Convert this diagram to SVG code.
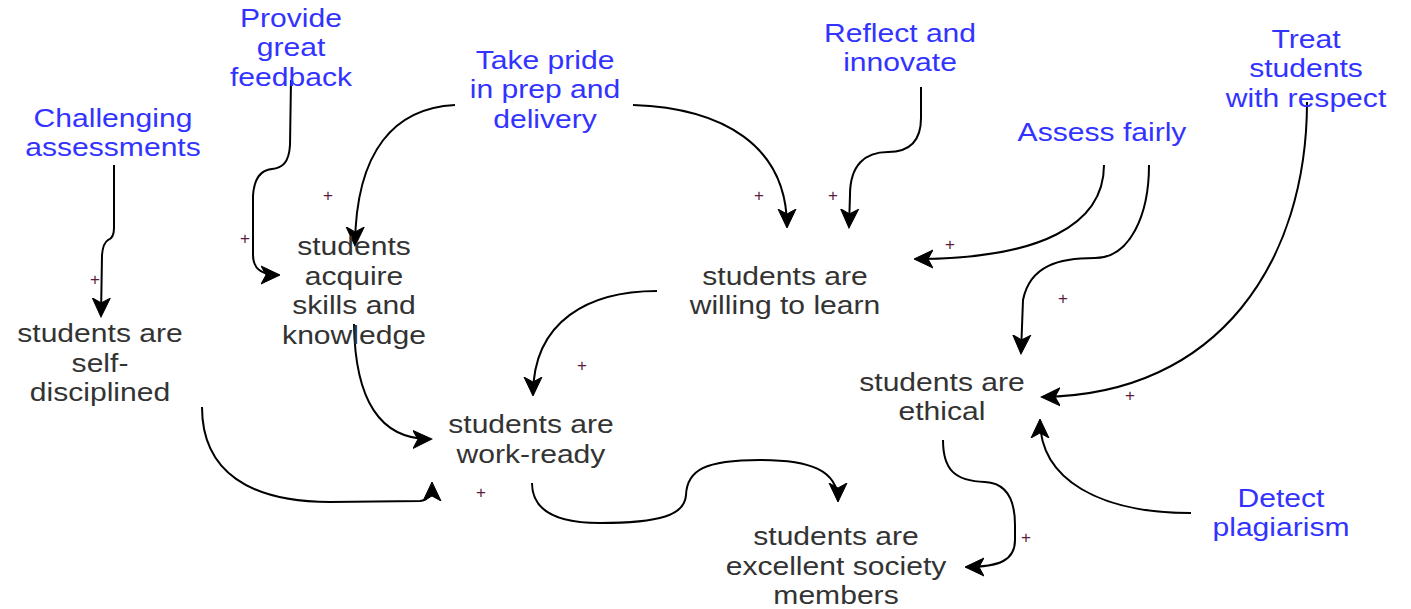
<svg xmlns="http://www.w3.org/2000/svg" width="1411" height="609" viewBox="0 0 1411 609">
<defs>
<style>
.lbl{font-family:"Liberation Sans",Arial,sans-serif;font-size:25.5px;text-anchor:middle}
.act{fill:#3333ff}
.node{fill:#333333}
.edge{fill:none;stroke:#000;stroke-width:2;marker-end:url(#arr)}
.plus{font-family:"Liberation Sans",Arial,sans-serif;font-size:17px;fill:#5c1a3c;text-anchor:middle}
</style>
<marker id="arr" markerUnits="userSpaceOnUse" markerWidth="20" markerHeight="20" viewBox="0 0 20 20" refX="18" refY="10" orient="auto">
<path d="M0,1 L19,10 L0,19 L5,10 Z" fill="#000" stroke="#000" stroke-width="1"/>
</marker>
</defs>
<rect width="1411" height="609" fill="#fff"/>

<g id="connectors">
<path class="edge" d="M114,165 L114,228 Q114,238 108,240 Q103,243 102,255 L101,316"/>
<path class="edge" d="M291,80 L290,145 C289,163 282,168 272,169 C261,170 254,178 253,196 L253,255 C253,268 260,275 279,275"/>
<path class="edge" d="M455,105 C395,108 356,150 355,245"/>
<path class="edge" d="M633,105 C722,108 787,145 787,227"/>
<path class="edge" d="M921,87 L921,118 C921,140 910,152 888,152 C865,152 850,165 850,195 L849,227"/>
<path class="edge" d="M1104,165 C1104,225 1040,259 915,259"/>
<path class="edge" d="M1149,165 C1149,215 1130,258 1095,258 C1060,258 1030,265 1023,300 L1021,353"/>
<path class="edge" d="M1307,102 C1307,260 1220,395 1042,397"/>
<path class="edge" d="M1191,513 C1100,513 1040,480 1040,420"/>
<path class="edge" d="M943,440 C943,470 955,481 985,482 C1005,483 1015,498 1015,525 L1015,540 C1015,560 1000,567 966,567"/>
<path class="edge" d="M657,291 C590,291 533,320 533,395"/>
<path class="edge" d="M354,324 C355,400 380,440 431,439"/>
<path class="edge" d="M202,407 C202,472 250,502 330,502 L420,501 Q432,500 432,483"/>
<path class="edge" d="M532,483 C532,510 555,523 600,523 C660,523 685,515 686,495 C687,470 705,460 760,460 C810,460 838,470 838,501"/>
<g id="edge-labels">
<text class="plus" x="95" y="285">+</text>
<text class="plus" x="245" y="244">+</text>
<text class="plus" x="328" y="201">+</text>
<text class="plus" x="759" y="201">+</text>
<text class="plus" x="833" y="201">+</text>
<text class="plus" x="950" y="250">+</text>
<text class="plus" x="1063" y="304">+</text>
<text class="plus" x="1130" y="401">+</text>
<text class="plus" x="582" y="371">+</text>
<text class="plus" x="481" y="498">+</text>
<text class="plus" x="1026" y="543">+</text>
</g>
</g>

<g id="challenging-assessments">
<text class="lbl act" transform="translate(113 0) scale(1.18 1)"><tspan x="0" y="127">Challenging</tspan><tspan x="0" y="156">assessments</tspan></text>
</g>
<g id="provide-feedback">
<text class="lbl act" transform="translate(291 0) scale(1.18 1)"><tspan x="0" y="27">Provide</tspan><tspan x="0" y="56.5">great</tspan><tspan x="0" y="86">feedback</tspan></text>
</g>
<g id="take-pride">
<text class="lbl act" transform="translate(545 0) scale(1.18 1)"><tspan x="0" y="69">Take pride</tspan><tspan x="0" y="98.5">in prep and</tspan><tspan x="0" y="128">delivery</tspan></text>
</g>
<g id="reflect-innovate">
<text class="lbl act" transform="translate(900 0) scale(1.18 1)"><tspan x="0" y="42">Reflect and</tspan><tspan x="0" y="71">innovate</tspan></text>
</g>
<g id="assess-fairly">
<text class="lbl act" transform="translate(1102 0) scale(1.18 1)"><tspan x="0" y="141">Assess fairly</tspan></text>
</g>
<g id="treat-respect">
<text class="lbl act" transform="translate(1306 0) scale(1.18 1)"><tspan x="0" y="48">Treat</tspan><tspan x="0" y="77.5">students</tspan><tspan x="0" y="107">with respect</tspan></text>
</g>
<g id="detect-plagiarism">
<text class="lbl act" transform="translate(1281 0) scale(1.18 1)"><tspan x="0" y="507">Detect</tspan><tspan x="0" y="536.5">plagiarism</tspan></text>
</g>

<g id="self-disciplined">
<text class="lbl node" transform="translate(100 0) scale(1.18 1)"><tspan x="0" y="342">students are</tspan><tspan x="0" y="372">self-</tspan><tspan x="0" y="401">disciplined</tspan></text>
</g>
<g id="acquire-skills">
<text class="lbl node" transform="translate(354 0) scale(1.18 1)"><tspan x="0" y="255">students</tspan><tspan x="0" y="284.7">acquire</tspan><tspan x="0" y="314.4">skills and</tspan><tspan x="0" y="344">knowledge</tspan></text>
</g>
<g id="willing-to-learn">
<text class="lbl node" transform="translate(785 0) scale(1.18 1)"><tspan x="0" y="285">students are</tspan><tspan x="0" y="314.5">willing to learn</tspan></text>
</g>
<g id="work-ready">
<text class="lbl node" transform="translate(531 0) scale(1.18 1)"><tspan x="0" y="433.5">students are</tspan><tspan x="0" y="463">work-ready</tspan></text>
</g>
<g id="ethical">
<text class="lbl node" transform="translate(942 0) scale(1.18 1)"><tspan x="0" y="391">students are</tspan><tspan x="0" y="420">ethical</tspan></text>
</g>
<g id="excellent-society">
<text class="lbl node" transform="translate(836 0) scale(1.18 1)"><tspan x="0" y="545">students are</tspan><tspan x="0" y="575">excellent society</tspan><tspan x="0" y="604.3">members</tspan></text>
</g>
</svg>
